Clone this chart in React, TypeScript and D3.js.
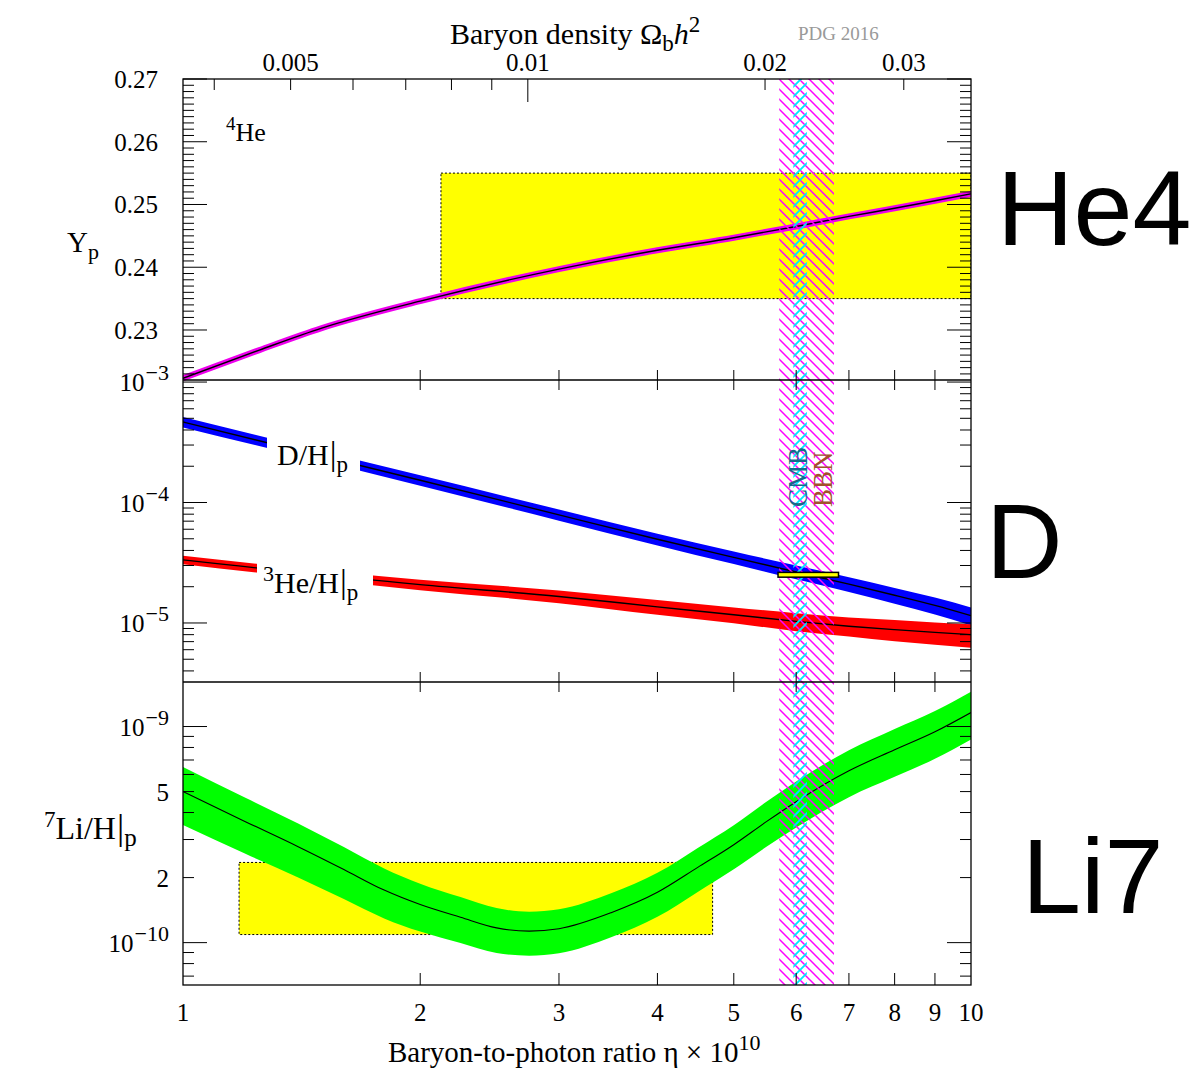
import React from 'react';
import * as d3 from 'd3';

// ---- data ----
const etaGrid = [1, 2, 3, 4, 5, 6, 7, 8, 9, 10];

const he4Eta = [1, 1.25, 1.5, 2, 3, 4, 5, 6, 7, 8, 9, 10];
const he4Yp = [0.2223, 0.2268, 0.2303, 0.2346, 0.2397, 0.2427, 0.2447, 0.2465, 0.2481, 0.2494, 0.2506, 0.2517];

const dhVal = [4.66e-4, 1.53e-4, 7.9e-5, 4.95e-5, 3.5e-5, 2.65e-5, 2.1e-5, 1.7e-5, 1.4e-5, 1.15e-5];
const dhErr = [0.1, 0.1, 0.105, 0.11, 0.12, 0.13, 0.14, 0.15, 0.16, 0.17];

const he3Val = [3.34e-5, 2.08e-5, 1.66e-5, 1.36e-5, 1.17e-5, 1.03e-5, 9.4e-6, 8.8e-6, 8.35e-6, 8.0e-6];
const he3Err = [0.08, 0.1, 0.12, 0.14, 0.15, 0.17, 0.18, 0.2, 0.21, 0.22];

const liEta = [1, 1.2, 1.4, 1.6, 1.8, 2, 2.25, 2.5, 2.75, 3, 3.5, 4, 4.5, 5, 5.5, 6, 7, 8, 9, 10];
const liVal = [5.0e-10, 3.63e-10, 2.78e-10, 2.18e-10, 1.75e-10, 1.5e-10, 1.31e-10, 1.17e-10, 1.13e-10, 1.16e-10,
  1.38e-10, 1.71e-10, 2.23e-10, 2.84e-10, 3.63e-10, 4.49e-10, 6.24e-10, 7.8e-10, 9.45e-10, 1.16e-9];
const liErr = [0.3, 0.29, 0.28, 0.27, 0.26, 0.25, 0.24, 0.235, 0.23, 0.23, 0.23, 0.23, 0.23, 0.23, 0.235, 0.24, 0.245, 0.25, 0.25, 0.25];

const he4ObsRange = [0.235, 0.255];
const he4ObsEta = [2.125, 10];
const dhObsRange = [2.4e-5, 2.63e-5];
const dhObsEta = [5.69, 6.79];
const liObsRange = [1.09e-10, 2.35e-10];
const liObsEta = [1.178, 4.7];

const bbnEta = [5.71, 6.7];
const cmbEta = [5.95, 6.19];

const etaTicks = [1, 2, 3, 4, 5, 6, 7, 8, 9, 10];
const omegaTicks = [0.004, 0.005, 0.006, 0.007, 0.008, 0.009, 0.01, 0.02, 0.03];
const omegaLabels = ['0.005', '0.01', '0.02', '0.03'];
const ETA_PER_OMEGA = 273.9;

// ---- layout ----
const L = 183, R = 971, T = 79, B = 985;
const S1 = 380, S2 = 682;
const serif = '"Liberation Serif", "Times New Roman", serif';
const sans = '"Liberation Sans", Arial, sans-serif';

function logTicks(lo: number, hi: number) {
  const out: { v: number; k: number }[] = [];
  for (let d = Math.floor(Math.log10(lo)); d <= Math.ceil(Math.log10(hi)); d++) {
    for (let k = 1; k < 10; k++) {
      const v = k * Math.pow(10, d);
      if (v >= lo * 0.999 && v <= hi * 1.001) out.push({ v, k });
    }
  }
  return out;
}

const Pow = ({ x, y, e }: { x: number; y: number; e: string }) => (
  <text x={x} y={y} textAnchor="end" fontSize={25}>
    10<tspan dx={1} dy={-11} fontSize={22}>{'\u2212' + e}</tspan>
  </text>
);

export default function App() {
  const x = d3.scaleLog().domain([1, 10]).range([L, R]);
  const yHe = d3.scaleLinear().domain([0.22203, 0.27]).range([S1, T]);
  const yD = d3.scaleLog().domain([Math.pow(10, -5.49), Math.pow(10, -2.983)]).range([S2, S1]);
  const yLi = d3.scaleLog().domain([Math.pow(10, -10.196), Math.pow(10, -8.794)]).range([B, S2]);

  const he4Pts = he4Eta.map((e, i) => [e, he4Yp[i]] as [number, number]);
  const he4Line = d3.line<[number, number]>().x(d => x(d[0])).y(d => yHe(d[1])).curve(d3.curveMonotoneX);

  const dPts = etaGrid.map((e, i) => ({ e, v: dhVal[i], r: dhErr[i] }));
  const h3Pts = etaGrid.map((e, i) => ({ e, v: he3Val[i], r: he3Err[i] }));
  const liPts = liEta.map((e, i) => ({ e, v: liVal[i], r: liErr[i] }));

  type P = { e: number; v: number; r: number };
  const band = (y: d3.ScaleLogarithmic<number, number>) =>
    d3.area<P>().x(d => x(d.e)).y0(d => y(d.v * (1 - d.r))).y1(d => y(d.v * (1 + d.r))).curve(d3.curveMonotoneX);
  const mid = (y: d3.ScaleLogarithmic<number, number>) =>
    d3.line<P>().x(d => x(d.e)).y(d => y(d.v)).curve(d3.curveMonotoneX);

  const heTicks = d3.range(223, 271).map(i => ({ v: i / 1000, major: i % 10 === 0 }));
  const dTicks = logTicks(yD.domain()[0], yD.domain()[1]);
  const liTicks = logTicks(yLi.domain()[0], yLi.domain()[1]);

  const yTickLines: { y: number; len: number }[] = [
    ...heTicks.map(t => ({ y: yHe(t.v), len: t.major ? 24 : 11 })),
    ...dTicks.map(t => ({ y: yD(t.v), len: t.k === 1 ? 24 : 11 })),
    ...liTicks.map(t => ({ y: yLi(t.v), len: t.k === 1 ? 24 : 11 })),
  ];

  return (
    <svg width={1200} height={1069} style={{ position: 'absolute', left: 0, top: 0, background: '#fff' }}
      fontFamily={serif}>
      <defs>
        <clipPath id="plot"><rect x={L} y={T} width={R - L} height={B - T} /></clipPath>
        <pattern id="bbnHatch" patternUnits="userSpaceOnUse" width={10} height={10}>
          <path d="M-1,-1 L11,11 M-1,9 L1,11 M9,-1 L11,1" stroke="#ff00ff" strokeWidth={1.5} />
        </pattern>
        <pattern id="cmbHatch" patternUnits="userSpaceOnUse" width={10} height={10}>
          <path d="M-1,11 L11,-1 M-1,1 L1,-1 M9,11 L11,9" stroke="#00e5ff" strokeWidth={1.8} />
        </pattern>
      </defs>

      <g clipPath="url(#plot)">
        {/* observed boxes */}
        <rect x={x(he4ObsEta[0])} y={yHe(he4ObsRange[1])} width={x(he4ObsEta[1]) - x(he4ObsEta[0])}
          height={yHe(he4ObsRange[0]) - yHe(he4ObsRange[1])} fill="#ffff00" stroke="#000" strokeDasharray="2,2" />
        <rect x={x(liObsEta[0])} y={yLi(liObsRange[1])} width={x(liObsEta[1]) - x(liObsEta[0])}
          height={yLi(liObsRange[0]) - yLi(liObsRange[1])} fill="#ffff00" stroke="#000" strokeDasharray="2,2" />

        {/* He4 */}
        <path d={he4Line(he4Pts) || ''} fill="none" stroke="#ee00ee" strokeWidth={6} />
        <path d={he4Line(he4Pts) || ''} fill="none" stroke="#000" strokeWidth={1.4} />

        {/* D and He3 */}
        <path d={band(yD)(dPts) || ''} fill="#0000ff" />
        <path d={mid(yD)(dPts) || ''} fill="none" stroke="#000" strokeWidth={1.4} />
        <path d={band(yD)(h3Pts) || ''} fill="#ff0000" />
        <path d={mid(yD)(h3Pts) || ''} fill="none" stroke="#000" strokeWidth={1.4} />

        {/* Li7 */}
        <path d={band(yLi)(liPts) || ''} fill="#00ff00" />
        <path d={mid(yLi)(liPts) || ''} fill="none" stroke="#000" strokeWidth={1.1} />

        {/* label gaps */}
        <rect x={267} y={436} width={93} height={44} fill="#fff" />
        <rect x={257} y={556} width={116} height={50} fill="#fff" />

        {/* BBN / CMB hatched bands */}
        <rect x={x(bbnEta[0])} y={T} width={x(bbnEta[1]) - x(bbnEta[0])} height={B - T} fill="url(#bbnHatch)" />
        <rect x={x(cmbEta[0])} y={T} width={x(cmbEta[1]) - x(cmbEta[0])} height={B - T} fill="url(#cmbHatch)" />

        <rect x={x(dhObsEta[0])} y={yD(dhObsRange[1])} width={x(dhObsEta[1]) - x(dhObsEta[0])}
          height={yD(dhObsRange[0]) - yD(dhObsRange[1])} fill="#ffff00" stroke="#000" strokeWidth={1.5} />
      </g>

      {/* frame and separators */}
      <rect x={L} y={T} width={R - L} height={B - T} fill="none" stroke="#000" strokeWidth={1.3} />
      <line x1={L} x2={R} y1={S1} y2={S1} stroke="#000" strokeWidth={1.3} />
      <line x1={L} x2={R} y1={S2} y2={S2} stroke="#000" strokeWidth={1.3} />

      {/* y ticks, both sides */}
      <g stroke="#000" strokeWidth={1}>
        {yTickLines.map((t, i) => (
          <g key={i}>
            <line x1={L} x2={L + t.len} y1={t.y} y2={t.y} />
            <line x1={R} x2={R - t.len} y1={t.y} y2={t.y} />
          </g>
        ))}
        {/* x ticks */}
        {etaTicks.slice(1, -1).map(e => (
          <g key={e}>
            <line x1={x(e)} x2={x(e)} y1={B} y2={B - 12} />
            <line x1={x(e)} x2={x(e)} y1={S1 - 10} y2={S1 + 10} />
            <line x1={x(e)} x2={x(e)} y1={S2 - 10} y2={S2 + 10} />
          </g>
        ))}
        {omegaTicks.map(o => (
          <line key={o} x1={x(o * ETA_PER_OMEGA)} x2={x(o * ETA_PER_OMEGA)} y1={T} y2={T + (o === 0.01 ? 23 : 11)} />
        ))}
      </g>

      {/* tick labels */}
      <g fontSize={25} fill="#000">
        {heTicks.filter(t => t.major).map(t => (
          <text key={t.v} x={158} y={yHe(t.v) + 9} textAnchor="end">{t.v.toFixed(2)}</text>
        ))}
        <Pow x={169} y={yD(1e-3) + 9} e="3" />
        <Pow x={169} y={yD(1e-4) + 9} e="4" />
        <Pow x={169} y={yD(1e-5) + 9} e="5" />
        <Pow x={169} y={yLi(1e-9) + 9} e="9" />
        <Pow x={169} y={yLi(1e-10) + 9} e="10" />
        <text x={169} y={yLi(5e-10) + 9} textAnchor="end">5</text>
        <text x={169} y={yLi(2e-10) + 9} textAnchor="end">2</text>
        {etaTicks.map(e => (
          <text key={e} x={x(e)} y={1021} textAnchor="middle">{e}</text>
        ))}
        {omegaLabels.map(o => (
          <text key={o} x={x(+o * ETA_PER_OMEGA)} y={71} textAnchor="middle">{o}</text>
        ))}
      </g>

      {/* axis titles */}
      <text x={450} y={44} fontSize={30}>
        Baryon density Ω<tspan dy={7} fontSize={23}>b</tspan><tspan dy={-7} fontStyle="italic">h</tspan>
        <tspan dy={-12} fontSize={23}>2</tspan>
      </text>
      <text x={798} y={40} fontSize={19} fill="#999">PDG 2016</text>
      <text x={388} y={1062} fontSize={29}>
        Baryon-to-photon ratio η × 10<tspan dy={-12} fontSize={22}>10</tspan>
      </text>
      <text x={67} y={252} fontSize={29}>Y<tspan dy={7} fontSize={22}>p</tspan></text>
      <text x={44} y={839} fontSize={32}>
        <tspan dy={-12} fontSize={23}>7</tspan><tspan dy={12}>Li/H</tspan><tspan dx={1} fontSize={36}>|</tspan>
        <tspan dy={7} fontSize={25}>p</tspan>
      </text>

      {/* in-plot labels */}
      <text x={226} y={141} fontSize={26}>
        <tspan dy={-11} fontSize={19}>4</tspan><tspan dy={11}>He</tspan>
      </text>
      <text x={277} y={465} fontSize={30}>
        D/H<tspan dx={1} fontSize={34}>|</tspan><tspan dy={7} fontSize={23}>p</tspan>
      </text>
      <text x={263} y={593} fontSize={30}>
        <tspan dy={-12} fontSize={22}>3</tspan><tspan dy={12}>He/H</tspan><tspan dx={1} fontSize={34}>|</tspan>
        <tspan dy={7} fontSize={23}>p</tspan>
      </text>
      <text transform="translate(807,507) rotate(-90)" fontSize={27} fill="#17688a">CMB</text>
      <text transform="translate(832,507) rotate(-90)" fontSize={27} fill="#a0522d">BBN</text>

      {/* big right-side labels */}
      <g fontFamily={sans} fontSize={106} fill="#000">
        <text x={997} y={245}>He4</text>
        <text x={986} y={578}>D</text>
        <text x={1022} y={913}>Li7</text>
      </g>
    </svg>
  );
}
